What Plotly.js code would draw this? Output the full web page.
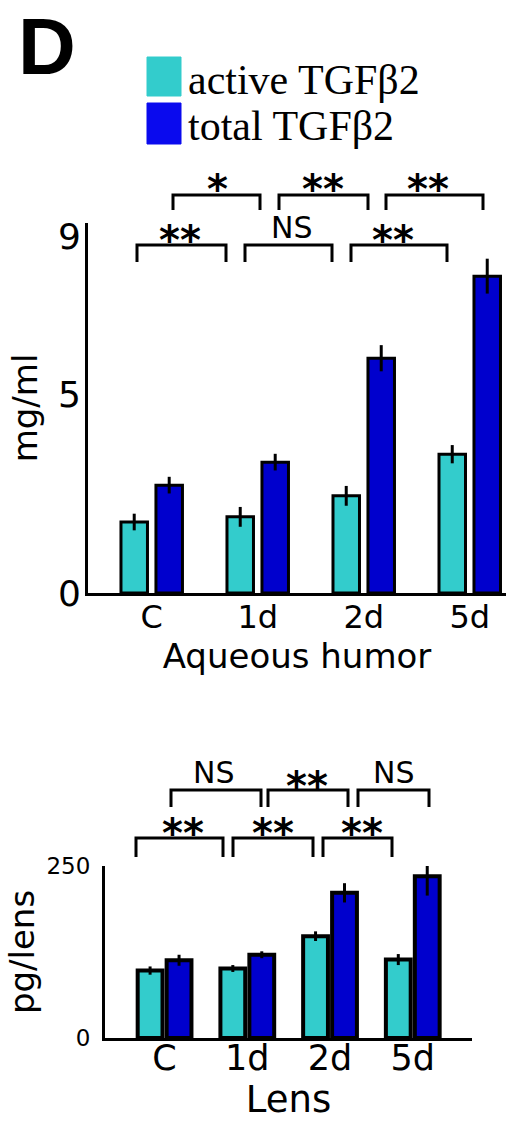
<!DOCTYPE html>
<html>
<head>
<meta charset="utf-8">
<script src="https://cdn.plot.ly/plotly-3.0.1.min.js"></script>
<style>
  html, body { margin: 0; padding: 0; background: #fff; }
  #chart { width: 506px; height: 1121px; }
</style>
</head>
<body>
<div id="chart"></div>
<script>
// ---------------- data ----------------
const categories = ['C', '1d', '2d', '5d'];
const seriesNames = ['active TGFβ2', 'total TGFβ2'];

// Aqueous humor (mg/ml)
const aqActive    = [1.79, 1.92, 2.45, 3.50];
const aqActiveErr = [0.21, 0.25, 0.25, 0.23];
const aqTotal     = [2.72, 3.30, 5.92, 7.99];
const aqTotalErr  = [0.21, 0.21, 0.33, 0.44];
const aqTicks     = [0, 5, 9];

// Lens (pg/lens)
const lensActive    = [98, 101, 148, 114];
const lensActiveErr = [6, 5, 7, 8];
const lensTotal     = [113, 121, 211, 235];
const lensTotalErr  = [8, 5, 14, 28];
const lensTicks     = [0, 250];

// significance labels (lower row = adjacent pairs of active, upper row = adjacent pairs of total)
const aqSigLower   = ['**', 'NS', '**'];
const aqSigUpper   = ['*', '**', '**'];
const lensSigLower = ['**', '**', '**'];
const lensSigUpper = ['NS', '**', 'NS'];

// ---------------- styling ----------------
const W = 506, H = 1121;
const cyan = '#33CCCC';
const blue = '#0000CD';
const legendBlue = '#0A0AEE';
const sans = 'DejaVu Sans, Arial, sans-serif';
const serif = 'Liberation Serif, Times New Roman, serif';
const px = (x) => x / W;
const py = (y) => 1 - y / H;

function barTrace(y, err, color, name, xa, ya, width, offset, lw) {
  return {
    type: 'bar', x: categories, y: y, name: name,
    xaxis: xa, yaxis: ya, width: width, offset: offset,
    marker: { color: color, line: { color: '#000', width: lw } },
    error_y: { type: 'data', array: err, visible: true, color: '#000', thickness: 3, width: 0 },
    cliponaxis: false, showlegend: false, hoverinfo: 'skip'
  };
}

const traces = [
  barTrace(aqActive, aqActiveErr, cyan, seriesNames[0], 'x', 'y', 0.25, -0.29, 3),
  barTrace(aqTotal, aqTotalErr, blue, seriesNames[1], 'x', 'y', 0.25, 0.04, 3),
  barTrace(lensActive, lensActiveErr, cyan, seriesNames[0], 'x2', 'y2', 0.30, -0.325, 4),
  barTrace(lensTotal, lensTotalErr, blue, seriesNames[1], 'x2', 'y2', 0.30, 0.025, 4)
];

// brackets (pixel geometry) --------------------------------
const shapes = [];
const annotations = [];
const STAR = 40, NS = 30;
function bracket(x0, x1, yt, yb, label, lx, ly) {
  shapes.push({
    type: 'path', xref: 'paper', yref: 'paper',
    path: `M ${px(x0)},${py(yb)} L ${px(x0)},${py(yt)} L ${px(x1)},${py(yt)} L ${px(x1)},${py(yb)}`,
    line: { color: '#000', width: 3 }
  });
  const star = label.indexOf('*') >= 0;
  annotations.push({
    xref: 'paper', yref: 'paper', x: px(lx), y: py(ly + (star ? 0.26 * STAR : 0.02 * NS)),
    xanchor: 'center', yanchor: 'middle', showarrow: false, text: label,
    font: { family: sans, size: star ? STAR : NS, color: '#000', weight: star ? 'bold' : 'normal' }
  });
}
// top chart
const aqLowX = [[137, 226], [245, 332], [351, 447]];
const aqLowLab = [180, 291.5, 393];
const aqUpX = [[173, 260], [279, 368], [386, 483]];
const aqUpLab = [217, 323, 428];
for (let i = 0; i < 3; i++) {
  bracket(aqLowX[i][0], aqLowX[i][1], 245, 262, aqSigLower[i], aqLowLab[i], aqSigLower[i] === 'NS' ? 227 : 230);
  bracket(aqUpX[i][0], aqUpX[i][1], 195, 210, aqSigUpper[i], aqUpLab[i], 178.5);
}
// bottom chart
const lensLowX = [[136, 223], [233, 313], [323, 392]];
const lensLowLab = [182.5, 272.5, 361.5];
const lensUpX = [[171, 261], [268, 348], [358, 429]];
const lensUpLab = [213.5, 306.5, 393.5];
for (let i = 0; i < 3; i++) {
  bracket(lensLowX[i][0], lensLowX[i][1], 838, 857, lensSigLower[i], lensLowLab[i], 822.5);
  bracket(lensUpX[i][0], lensUpX[i][1], 790, 807, lensSigUpper[i], lensUpLab[i], lensSigUpper[i] === 'NS' ? 772 : 775.5);
}

// legend (drawn manually) ---------------------------------
shapes.push({ type: 'rect', xref: 'paper', yref: 'paper', x0: px(147), x1: px(181), y0: py(96), y1: py(57),
  fillcolor: cyan, line: { color: cyan, width: 1 } });
shapes.push({ type: 'rect', xref: 'paper', yref: 'paper', x0: px(147), x1: px(181), y0: py(144), y1: py(103),
  fillcolor: legendBlue, line: { color: legendBlue, width: 1 } });
annotations.push({ xref: 'paper', yref: 'paper', x: px(186), y: py(80), xanchor: 'left', yanchor: 'middle',
  showarrow: false, text: seriesNames[0], font: { family: serif, size: 42, color: '#000' } });
annotations.push({ xref: 'paper', yref: 'paper', x: px(186), y: py(126), xanchor: 'left', yanchor: 'middle',
  showarrow: false, text: seriesNames[1], font: { family: serif, size: 42, color: '#000' } });

// panel letter
annotations.push({ xref: 'paper', yref: 'paper', x: px(16), y: 1, xanchor: 'left', yanchor: 'top',
  showarrow: false, text: 'D', font: { family: 'Liberation Sans, Arial, sans-serif', size: 80, color: '#000', weight: 'bold' } });

const axisCommon = {
  showline: true, linecolor: '#000', linewidth: 3, ticks: '', showgrid: false, zeroline: false,
  fixedrange: true
};

const layout = {
  width: W, height: H,
  margin: { l: 0, r: 0, t: 0, b: 0 },
  paper_bgcolor: '#fff', plot_bgcolor: '#fff',
  showlegend: false,
  barmode: 'overlay',
  xaxis: Object.assign({}, axisCommon, {
    domain: [px(88), 1], anchor: 'y', type: 'category', range: [-0.601, 3.342],
    tickfont: { family: sans, size: 32, color: '#000' }, ticklabelstandoff: -6,
    title: { text: 'Aqueous humor', font: { family: sans, size: 34, color: '#000' }, standoff: 0 }
  }),
  yaxis: Object.assign({}, axisCommon, {
    domain: [py(593), py(223)], anchor: 'x', range: [0, 9.33],
    tickvals: aqTicks, ticktext: aqTicks.map(String), ticklabelstandoff: -3,
    tickfont: { family: sans, size: 36, color: '#000' },
    title: { text: 'mg/ml', font: { family: sans, size: 34, color: '#000' }, standoff: 10 }
  }),
  xaxis2: Object.assign({}, axisCommon, {
    domain: [px(105), px(472)], anchor: 'y2', type: 'category', range: [-0.72, 3.716],
    tickfont: { family: sans, size: 35, color: '#000' }, ticklabelstandoff: -13,
    title: { text: 'Lens', font: { family: sans, size: 37, color: '#000' }, standoff: 15 }
  }),
  yaxis2: Object.assign({}, axisCommon, {
    domain: [py(1038), py(866)], anchor: 'x2', range: [0, 250],
    tickvals: lensTicks, ticktext: lensTicks.map(String), ticklabelstandoff: 7,
    tickfont: { family: sans, size: 23, color: '#000' },
    title: { text: 'pg/lens', font: { family: sans, size: 34, color: '#000' }, standoff: 2 }
  }),
  shapes: shapes,
  annotations: annotations
};

Plotly.newPlot('chart', traces, layout, { staticPlot: true, displayModeBar: false });
</script>
</body>
</html>
